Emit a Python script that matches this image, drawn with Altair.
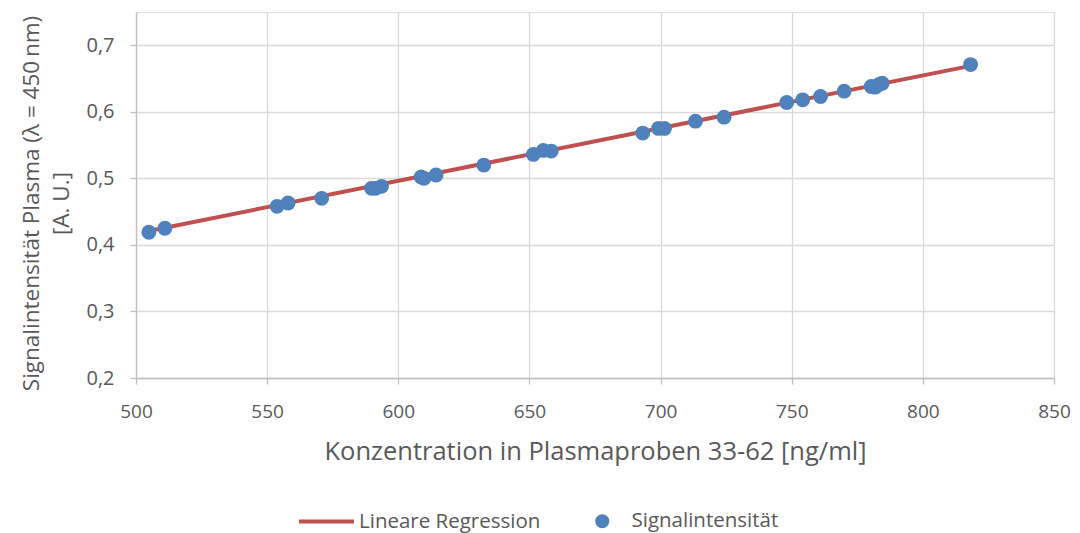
import altair as alt
import pandas as pd

# Concentrations (ng/ml) and signal intensities
konzentration = [504.9, 511.0, 553.8, 558.0, 570.8, 589.8, 591.3, 593.6, 608.7, 609.8,
                 614.4, 632.6, 651.5, 655.3, 658.3, 693.2, 699.2, 701.5, 713.3, 724.2,
                 748.1, 754.2, 761.0, 770.0, 780.3, 781.8, 783.3, 784.5, 818.2]
signal = [0.419, 0.425, 0.458, 0.463, 0.470, 0.485, 0.485, 0.488, 0.502, 0.500,
          0.505, 0.520, 0.536, 0.542, 0.541, 0.568, 0.575, 0.575, 0.586, 0.592,
          0.614, 0.618, 0.623, 0.631, 0.638, 0.637, 0.641, 0.643, 0.671]

# Regression line end points
reg_x = [504.9, 818.2]
reg_y = [0.421, 0.669]

x_ticks = [500, 550, 600, 650, 700, 750, 800, 850]
y_ticks = [0.2, 0.25, 0.3, 0.35, 0.4, 0.45, 0.5, 0.55, 0.6, 0.65, 0.7, 0.75]

FONT = "Open Sans"
TXT = "#595959"

pts = pd.DataFrame({"x": konzentration, "y": signal, "serie": "Signalintensität"})
reg = pd.DataFrame({"x": reg_x, "y": reg_y, "serie": "Lineare Regression"})

x_enc = alt.X(
    "x:Q",
    scale=alt.Scale(domain=[500, 850], nice=False, zero=False),
    axis=alt.Axis(
        values=x_ticks, title="Konzentration in Plasmaproben 33-62 [ng/ml]",
        grid=True, gridColor="#d9d9d9", gridWidth=1.3,
        domainColor="#bfbfbf", domainWidth=1.3, tickColor="#bfbfbf", tickSize=6, tickWidth=1.3,
        labelFont=FONT, labelFontSize=19, labelColor=TXT, labelPadding=18,
        titleFont=FONT, titleFontSize=25.5, titleFontWeight="normal", titleColor=TXT,
        titlePadding=18, labelFlush=False,
    ),
)

y_enc = alt.Y(
    "y:Q",
    scale=alt.Scale(domain=[0.2, 0.75], nice=False, zero=False),
    axis=alt.Axis(
        values=y_ticks,
        labelExpr="round(datum.value*100) % 10 == 0 ? replace(format(datum.value, '.1f'), '.', ',') : ''",
        title=["Signalintensität Plasma (λ = 450\u2009nm)", "[A. U.]"],
        grid=True,
        gridColor={"condition": {"test": "round(datum.value*100) % 10 == 0", "value": "#d9d9d9"},
                   "value": "#efefef"},
        gridWidth=1.3,
        domainColor="#bfbfbf", domainWidth=1.3, tickColor="#bfbfbf", tickSize=6, tickWidth=1.3,
        labelFont=FONT, labelFontSize=20, labelColor=TXT, labelPadding=16,
        titleFont=FONT, titleFontSize=22.5, titleFontWeight="normal", titleColor=TXT,
        titlePadding=12, labelFlush=False, titleLineHeight=30, titleY=191,
    ),
)

line = alt.Chart(reg).mark_line(strokeWidth=4).encode(
    x=x_enc, y=y_enc,
    stroke=alt.Stroke("serie:N",
                      scale=alt.Scale(domain=["Lineare Regression"], range=["#C0504D"]),
                      legend=alt.Legend(
                          title=None, orient="none", legendX=161, legendY=480,
                          symbolType="stroke", symbolSize=3025, symbolStrokeWidth=4,
                          labelFont=FONT, labelFontSize=20.5, labelColor=TXT, labelOffset=3,
                          labelLimit=400, padding=0)),
)

points = alt.Chart(pts).mark_circle(size=220, opacity=1).encode(
    x="x:Q", y="y:Q",
    fill=alt.Fill("serie:N",
                  scale=alt.Scale(domain=["Signalintensität"], range=["#4F81BD"]),
                  legend=alt.Legend(
                      title=None, orient="none", legendX=456, legendY=499,
                      symbolType="circle", symbolSize=200, symbolOpacity=1,
                      labelFont=FONT, labelFontSize=20.5, labelColor=TXT, labelOffset=19,
                      labelLimit=400, padding=0)),
)

chart = alt.layer(line, points).properties(
    width=918, height=366,
    autosize=alt.AutoSizeParams(type="none"),
    padding={"left": 128, "top": 4, "right": 18, "bottom": 155},
).configure_view(stroke=None).configure(background="white")

chart.save("out.html", embed_options={"renderer": "svg", "actions": False})
